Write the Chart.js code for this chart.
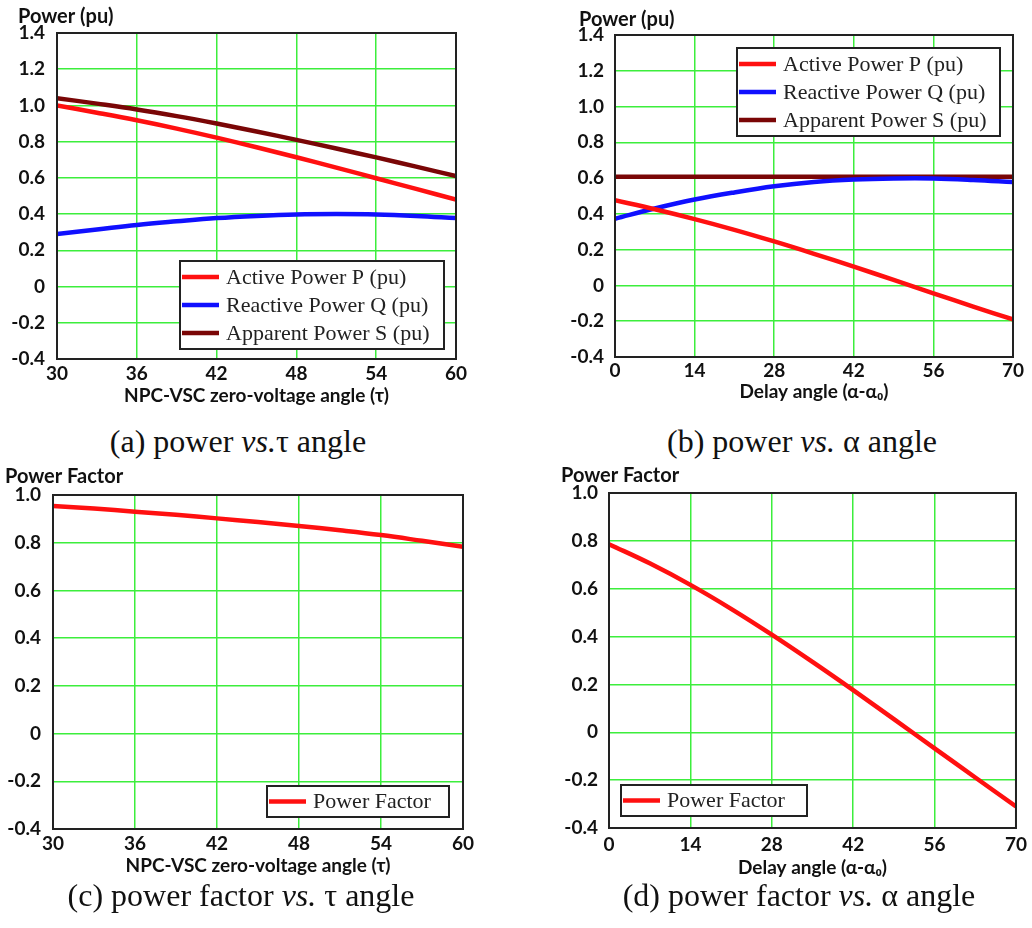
<!DOCTYPE html>
<html>
<head>
<meta charset="utf-8">
<script src="https://cdn.jsdelivr.net/npm/chart.js@4.4.1/dist/chart.umd.min.js"></script>
<style>
    body { margin: 0; background: #fff; }
    #page { position: relative; width: 1032px; height: 928px; overflow: hidden; }
    canvas { position: absolute; }
    .cap {
        position: absolute;
        font-family: "Liberation Serif", serif;
        font-size: 32px;
        color: #111;
        white-space: nowrap;
        transform: translate(-50%, -50%);
    }
</style>
</head>
<body>
<div id="page">
    <canvas id="chartA" width="516" height="412" style="left:0;top:0"></canvas>
    <canvas id="chartB" width="516" height="412" style="left:516px;top:0"></canvas>
    <canvas id="chartC" width="516" height="420" style="left:0;top:460px"></canvas>
    <canvas id="chartD" width="516" height="420" style="left:516px;top:460px"></canvas>
    <div class="cap" style="left:238px;top:441px">(a) power <i>vs.</i>τ angle</div>
    <div class="cap" style="left:802px;top:441px">(b) power <i>vs.</i> α angle</div>
    <div class="cap" style="left:241px;top:895px">(c) power factor <i>vs.</i> τ angle</div>
    <div class="cap" style="left:799px;top:895px">(d) power factor <i>vs.</i> α angle</div>
</div>

<script>
// values
const tauAngles   = [30, 33, 36, 39, 42, 45, 48, 51, 54, 57, 60];
const activeTau   = [1.00, 0.96, 0.918, 0.872, 0.822, 0.769, 0.714, 0.657, 0.598, 0.539, 0.48];
const reactiveTau = [0.29, 0.315, 0.34, 0.36, 0.378, 0.39, 0.398, 0.40, 0.398, 0.39, 0.378];
const apparentTau = [1.04, 1.01, 0.978, 0.941, 0.90, 0.856, 0.81, 0.762, 0.713, 0.662, 0.61];
const pfTau       = [0.954, 0.943, 0.93, 0.917, 0.902, 0.887, 0.87, 0.852, 0.832, 0.808, 0.783];

const delayAngles   = [0, 7, 14, 21, 28, 35, 42, 49, 56, 63, 70];
const activeDelay   = [0.476, 0.426, 0.371, 0.311, 0.246, 0.177, 0.105, 0.031, -0.044, -0.118, -0.19];
const reactiveDelay = [0.373, 0.43, 0.48, 0.52, 0.554, 0.578, 0.592, 0.598, 0.598, 0.59, 0.578];
const apparentDelay = [0.607, 0.607, 0.607, 0.607, 0.607, 0.607, 0.607, 0.607, 0.607, 0.607, 0.607];
const pfDelay       = [0.786, 0.706, 0.616, 0.516, 0.408, 0.294, 0.176, 0.055, -0.067, -0.189, -0.31];

const tauTitle = "NPC-VSC zero-voltage angle (τ)";
const delayTitle = "Delay angle (α-α₀)";

const RED = "#ff1010";
const BLUE = "#1010ff";
const MAROON = "#7a0606";
const GRID = "#3cee3c";

function pts(xs, ys) {
    return xs.map((x, i) => ({x: x, y: ys[i]}));
}

function line(label, xs, ys, color) {
    return {
        label: label,
        data: pts(xs, ys),
        borderColor: color,
        backgroundColor: color,
        borderWidth: 4.5,
        pointRadius: 0,
        tension: 0.4
    };
}

// frame round the plot area + y label in the corner + boxed legend inside the plot
const framePlugin = {
    id: "framePlugin",
    afterDraw(chart, args, opts) {
        const ctx = chart.ctx;
        const a = chart.chartArea;
        ctx.save();
        ctx.strokeStyle = "#222";
        ctx.lineWidth = 2;
        ctx.strokeRect(a.left, a.top, a.right - a.left, a.bottom - a.top);

        // y axis label
        ctx.fillStyle = "#111";
        ctx.font = "bold 20px Lato";
        ctx.textBaseline = "middle";
        ctx.textAlign = "left";
        ctx.fillText(opts.yLabel, opts.yLabelX, opts.yLabelY);

        // legend box
        const lg = opts.legend;
        const n = chart.data.datasets.length;
        const h = n * lg.row + 4;
        ctx.fillStyle = "#fff";
        ctx.fillRect(lg.x, lg.y, lg.w, h);
        ctx.strokeStyle = "#222";
        ctx.lineWidth = 2;
        ctx.strokeRect(lg.x, lg.y, lg.w, h);
        ctx.font = "22px 'Liberation Serif'";
        chart.data.datasets.forEach((ds, i) => {
            const cy = lg.y + 2 + lg.row * (i + 0.5);
            ctx.strokeStyle = ds.borderColor;
            ctx.lineWidth = 4.5;
            ctx.beginPath();
            ctx.moveTo(lg.x + 2, cy);
            ctx.lineTo(lg.x + 39, cy);
            ctx.stroke();
            ctx.fillStyle = "#222";
            ctx.fillText(ds.label, lg.x + 46, cy + 1);
        });
        ctx.restore();
    }
};

function makeChart(id, datasets, xCfg, yMax, lay, extra) {
    return new Chart(id, {
        type: "line",
        data: {datasets: datasets},
        options: {
            responsive: false,
            animation: false,
            devicePixelRatio: 1,
            layout: {padding: lay.padding},
            plugins: {
                legend: {display: false},
                tooltip: {enabled: false},
                framePlugin: extra
            },
            scales: {
                x: {
                    type: "linear",
                    min: xCfg.min,
                    max: xCfg.max,
                    afterFit: s => { s.height = lay.xh; },
                    grid: {color: GRID, lineWidth: 1.5, drawTicks: false},
                    border: {display: false},
                    ticks: {
                        stepSize: xCfg.step,
                        padding: lay.xpad,
                        color: "#111",
                        font: {family: "Lato", weight: "bold", size: 19},
                        maxRotation: 0
                    },
                    title: {
                        display: true,
                        text: xCfg.title,
                        color: "#111",
                        padding: 0,
                        font: {family: "Lato", weight: "bold", size: 19}
                    }
                },
                y: {
                    min: -0.4,
                    max: yMax,
                    afterFit: s => { s.width = 50; },
                    grid: {color: GRID, lineWidth: 1.5, drawTicks: false},
                    border: {display: false},
                    ticks: {
                        stepSize: 0.2,
                        padding: lay.ypad,
                        color: "#111",
                        font: {family: "Lato", weight: "bold", size: 19},
                        callback: v => Math.abs(v) < 1e-9 ? "0" : v.toFixed(1)
                    }
                }
            }
        },
        plugins: [framePlugin]
    });
}

Chart.defaults.font.family = "Lato";

makeChart("chartA", [
    line("Active Power P (pu)", tauAngles, activeTau, RED),
    line("Reactive Power Q (pu)", tauAngles, reactiveTau, BLUE),
    line("Apparent Power S (pu)", tauAngles, apparentTau, MAROON)
], {min: 30, max: 60, step: 6, title: tauTitle}, 1.4,
   {padding: {left: 7, right: 60, top: 33, bottom: 5}, xh: 48, xpad: 3, ypad: 12},
   {yLabel: "Power (pu)", yLabelX: 18, yLabelY: 17, legend: {x: 180, y: 261, w: 264, row: 28}});

makeChart("chartB", [
    line("Active Power P (pu)", delayAngles, activeDelay, RED),
    line("Reactive Power Q (pu)", delayAngles, reactiveDelay, BLUE),
    line("Apparent Power S (pu)", delayAngles, apparentDelay, MAROON)
], {min: 0, max: 70, step: 14, title: delayTitle}, 1.4,
   {padding: {left: 49, right: 19, top: 35, bottom: 9}, xh: 46, xpad: 2, ypad: 11},
   {yLabel: "Power (pu)", yLabelX: 63, yLabelY: 20, legend: {x: 221, y: 48, w: 263, row: 28}});

makeChart("chartC", [
    line("Power Factor", tauAngles, pfTau, RED)
], {min: 30, max: 60, step: 6, title: tauTitle}, 1.0,
   {padding: {left: 3, right: 53, top: 35, bottom: 3}, xh: 48, xpad: 3, ypad: 12},
   {yLabel: "Power Factor", yLabelX: 5, yLabelY: 17, legend: {x: 267, y: 326, w: 182, row: 27}});

makeChart("chartD", [
    line("Power Factor", delayAngles, pfDelay, RED)
], {min: 0, max: 70, step: 14, title: delayTitle}, 1.0,
   {padding: {left: 43, right: 9, top: 33, bottom: 1}, xh: 51, xpad: 5, ypad: 11},
   {yLabel: "Power Factor", yLabelX: 45, yLabelY: 16, legend: {x: 105, y: 325, w: 186, row: 27}});
</script>
</body>
</html>
